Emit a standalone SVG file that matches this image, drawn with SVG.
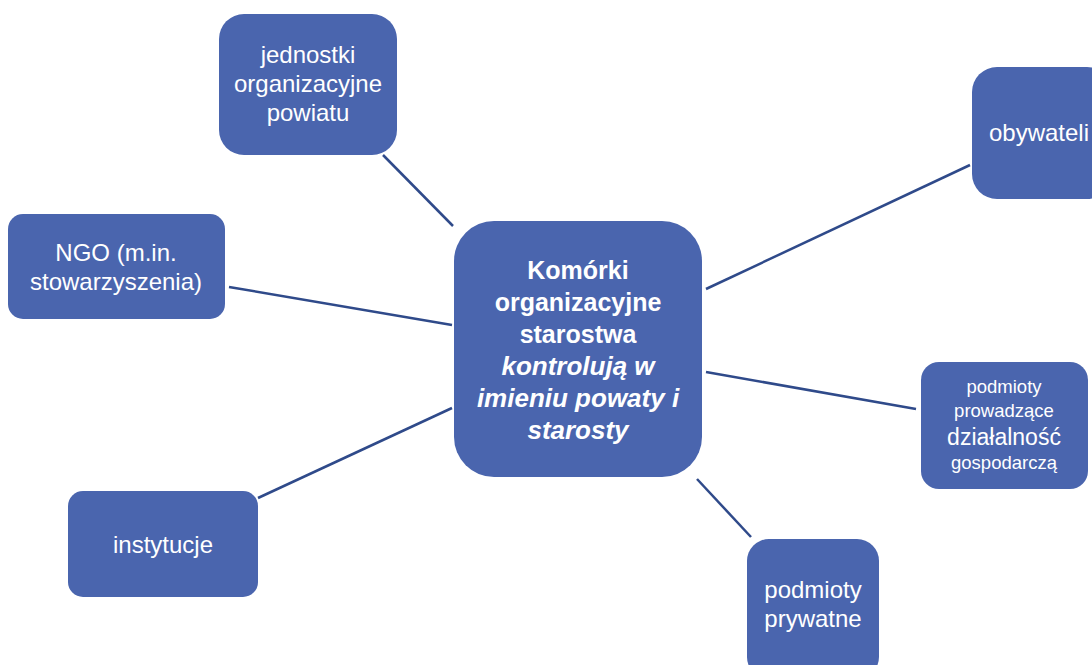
<svg xmlns="http://www.w3.org/2000/svg" width="1092" height="665" viewBox="0 0 1092 665">
<style>
.n{fill:#4a65ae;stroke:none}
.t{fill:#fff;font-family:"Liberation Sans",Arial,sans-serif;font-size:24px;text-anchor:middle}
.b{font-weight:bold;font-size:25px}
.i{font-style:italic;font-size:26px}
.s{font-size:18.5px}
.m{font-size:23px}
.c line{stroke:#2f4a8a;stroke-width:2.5}
</style>
<rect width="1092" height="665" fill="#fff"/>
<g class="c">
<line x1="383" y1="155" x2="453" y2="226"/>
<line x1="706" y1="289" x2="970" y2="165"/>
<line x1="229" y1="287" x2="452" y2="325"/>
<line x1="258" y1="498" x2="452" y2="408"/>
<line x1="706" y1="372" x2="916" y2="409"/>
<line x1="697" y1="479" x2="751" y2="537"/>
</g>
<g id="center">
<rect class="n" x="454" y="221" width="248" height="256" rx="40"/>
<text class="t b" x="578" y="279">Komórki</text>
<text class="t b" x="578" y="311">organizacyjne</text>
<text class="t b" x="578" y="343">starostwa</text>
<text class="t b i" x="578" y="375">kontrolują w</text>
<text class="t b i" x="578" y="407">imieniu powaty i</text>
<text class="t b i" x="578" y="439">starosty</text>
</g>
<g id="jednostki">
<rect class="n" x="219" y="14" width="178" height="141" rx="25"/>
<text class="t" x="308" y="63">jednostki</text>
<text class="t" x="308" y="92">organizacyjne</text>
<text class="t" x="308" y="121">powiatu</text>
</g>
<g id="ngo">
<rect class="n" x="8" y="214" width="217" height="105" rx="15"/>
<text class="t" x="116" y="261">NGO (m.in.</text>
<text class="t" x="116" y="290">stowarzyszenia)</text>
</g>
<g id="instytucje">
<rect class="n" x="68" y="491" width="190" height="106" rx="15"/>
<text class="t" x="163" y="553">instytucje</text>
</g>
<g id="obywateli">
<rect class="n" x="972" y="67" width="140" height="132" rx="25"/>
<text class="t" x="1039" y="141">obywateli</text>
</g>
<g id="prowadzace">
<rect class="n" x="921" y="362" width="167" height="127" rx="18"/>
<text class="t s" x="1004" y="393">podmioty</text>
<text class="t s" x="1004" y="417">prowadzące</text>
<text class="t m" x="1004" y="445">działalność</text>
<text class="t s" x="1004" y="469">gospodarczą</text>
</g>
<g id="prywatne">
<rect class="n" x="747" y="539" width="132" height="140" rx="22"/>
<text class="t" x="813" y="598">podmioty</text>
<text class="t" x="813" y="627">prywatne</text>
</g>
</svg>
